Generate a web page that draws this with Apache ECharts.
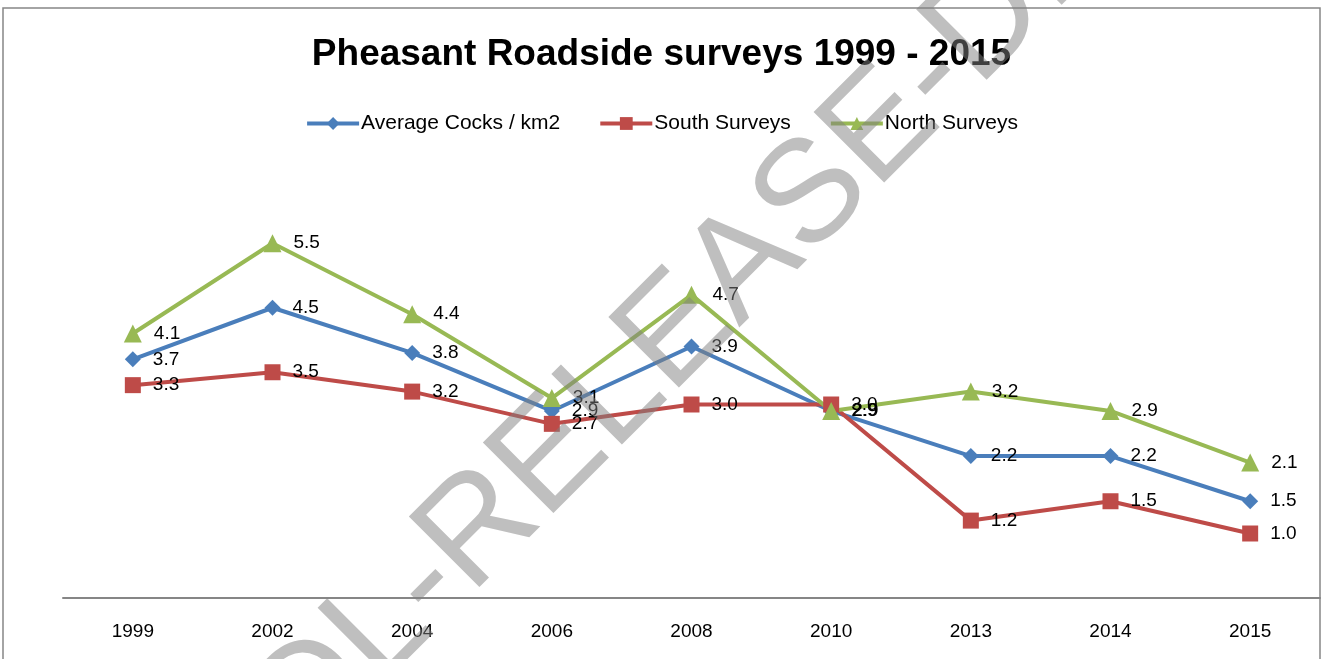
<!DOCTYPE html>
<html>
<head>
<meta charset="utf-8">
<script src="https://cdn.jsdelivr.net/npm/echarts@6/dist/echarts.min.js"></script>
<style>
    html, body { margin: 0; padding: 0; background: #fff; }
    #main { width: 1323px; height: 659px; }
</style>
</head>
<body>
<div id="main"></div>
<script>
// survey years and values
var years = ['1999', '2002', '2004', '2006', '2008', '2010', '2013', '2014', '2015'];
var averageCocks = [3.7, 4.5, 3.8, 2.9, 3.9, 2.9, 2.2, 2.2, 1.5];
var southSurveys = [3.3, 3.5, 3.2, 2.7, 3.0, 3.0, 1.2, 1.5, 1.0];
var northSurveys = [4.1, 5.5, 4.4, 3.1, 4.7, 2.9, 3.2, 2.9, 2.1];

var font = 'Liberation Sans';

function lineSeries(name, data, color, symbol, size) {
    return {
        name: name,
        type: 'line',
        data: data,
        symbol: symbol,
        symbolSize: size,
        lineStyle: { color: color, width: 4 },
        itemStyle: { color: color },
        label: {
            show: true,
            position: 'right',
            distance: 12,
            color: '#000',
            fontFamily: font,
            fontSize: 19,
            formatter: function (p) { return p.value.toFixed(1); }
        },
        emphasis: { disabled: true },
        z: 3
    };
}

var myChart = echarts.init(document.getElementById('main'));
var option = {
    backgroundColor: '#fff',
    animation: false,
    title: {
        text: 'Pheasant Roadside surveys 1999 - 2015',
        left: 'center',
        top: 31,
        textStyle: { fontFamily: font, fontSize: 37, fontWeight: 'bold', color: '#000' }
    },
    legend: {
        top: 108,
        left: 'center',
        itemWidth: 52,
        itemHeight: 16,
        itemGap: 38,
        lineStyle: { width: 4 },
        textStyle: { fontFamily: font, fontSize: 21, color: '#000', padding: [0, 0, 0, -3] },
        data: ['Average Cocks / km2', 'South Surveys', 'North Surveys']
    },
    grid: {
        left: 63,
        right: 3,
        top: 211,
        bottom: 61,
        containLabel: false
    },
    xAxis: {
        type: 'category',
        data: years,
        boundaryGap: true,
        axisLine: { lineStyle: { color: '#868686', width: 2 } },
        axisTick: { show: false },
        axisLabel: { color: '#000', fontFamily: font, fontSize: 19, margin: 24 }
    },
    yAxis: {
        type: 'value',
        min: 0,
        max: 6,
        show: false,
        splitLine: { show: false }
    },
    series: [
        lineSeries('Average Cocks / km2', averageCocks, '#4A7EBB', 'diamond', 16),
        lineSeries('South Surveys', southSurveys, '#BE4B48', 'rect', 16),
        lineSeries('North Surveys', northSurveys, '#98B954', 'triangle', 18)
    ],
    graphic: [
        {
            type: 'rect',
            shape: { x: 3, y: 8, width: 1317, height: 660 },
            style: { fill: 'none', stroke: '#868686', lineWidth: 1.5 },
            z: 0
        },
        {
            // watermark across the chart
            type: 'text',
            x: 665,
            y: 345,
            rotation: Math.PI / 4,
            style: {
                text: 'DL-RELEASE-DI',
                fontFamily: 'Liberation Sans Narrow, Liberation Sans',
                fontSize: 145,
                fill: 'rgba(128,128,128,0.5)',
                align: 'center',
                verticalAlign: 'middle'
            },
            z: 100
        }
    ]
};
myChart.setOption(option);
</script>
</body>
</html>
